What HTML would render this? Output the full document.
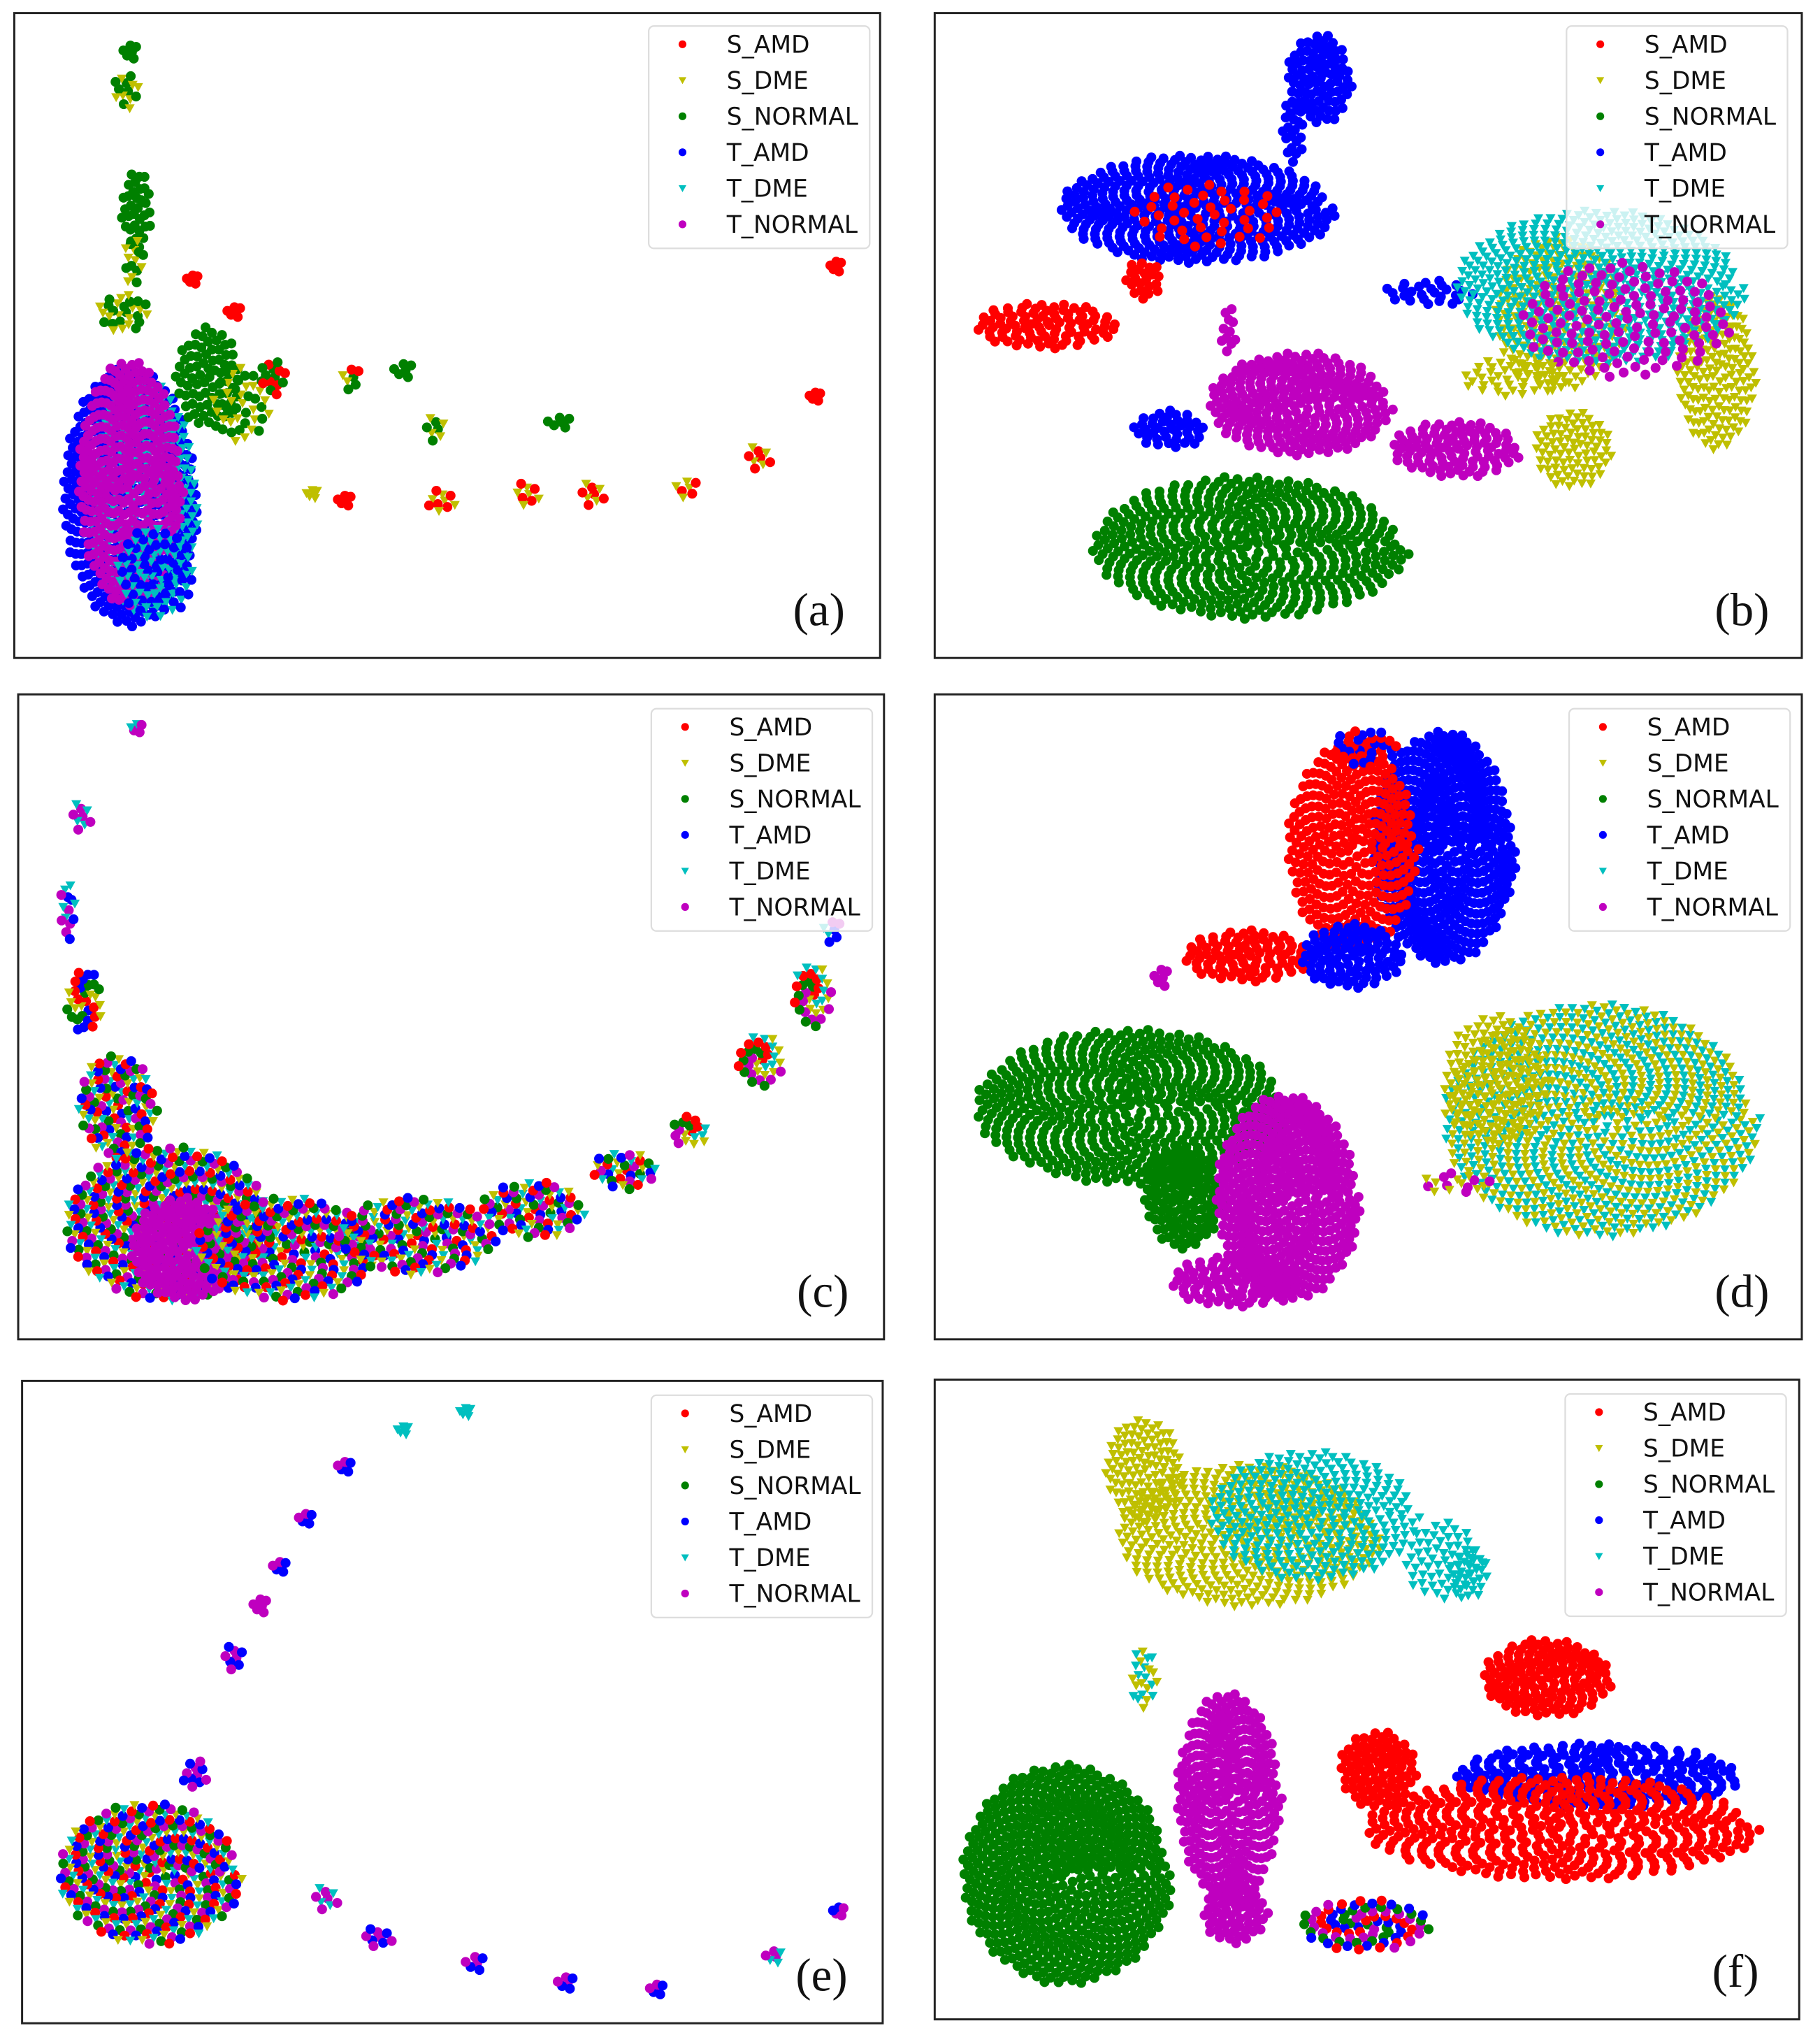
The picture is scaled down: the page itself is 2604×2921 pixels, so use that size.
<!DOCTYPE html>
<html><head><meta charset="utf-8"><style>
html,body{margin:0;padding:0;background:#fff}
svg{display:block}
text{font-family:"DejaVu Sans","Liberation Sans",sans-serif}
.lbl{font-family:"Liberation Serif",serif;font-size:36px}
</style></head><body>
<svg id="fig" width="2604" height="2921" viewBox="0 0 1400 1570.4" xmlns="http://www.w3.org/2000/svg">
<rect width="1400" height="1570.4" fill="#fff"/>
</svg>
<script>
// class names and colours
const classNames = ["S_AMD","S_DME","S_NORMAL","T_AMD","T_DME","T_NORMAL"];
const classColors = ["#ff0000","#bfbf00","#008000","#0000ff","#00bfbf","#bf00bf"];
// panel frames [x0,y0,x1,y1]
const panelA = [11,10,677,506], panelB = [719,10,1386,506], panelC = [14,534,680,1030];
const panelD = [719,534,1386,1030], panelE = [17,1062,679,1556], panelF = [719,1061,1384,1553];
// clusters: [cx, cy, rx, ry, classes, density]
const clustersA = [
 [100,40,6,8,"2",1],[97,70,10,15,"21",1],[105,160,12,30,"2",1],[103,200,8,20,"12",1],[95,240,20,15,"21",1],
 [100,380,52,100,"3",0.9],[110,380,42,90,"4",0.8],[100,370,40,95,"5",1],[120,440,30,35,"34",1],
 [160,290,25,40,"2",0.8],[185,310,22,30,"12",0.7],[210,290,10,15,"20",1],[270,290,8,10,"210",1],[310,285,8,8,"2",1],
 [335,330,9,10,"21",1],[430,325,10,6,"2",1],[340,385,11,10,"10",1],[405,380,10,10,"10",1],[455,380,10,10,"01",1],
 [528,375,10,8,"10",1],[583,352,10,10,"01",1],[627,305,5,5,"0",1],[643,205,5,6,"0",1],[265,385,6,6,"0",1],
 [240,380,5,5,"1",1],[148,215,5,5,"0",1],[180,240,6,6,"0",1]
];
const clustersB = [
 [1015,60,25,35,"3",1],[995,100,9,25,"3",1],[920,160,105,42,"3",1],[930,165,60,25,"0",0.3],
 [805,250,55,18,"0",1],[880,215,15,15,"0",1],[1100,225,35,10,"3",0.8],[945,255,6,20,"5",1],
 [1000,310,70,40,"5",1],[900,330,28,15,"3",1],[1120,345,50,22,"5",1],[960,420,120,55,"2",0.8],
 [1200,240,50,60,"1",0.8],[1320,285,30,60,"1",1],[1230,220,110,60,"4",0.9],[1250,245,80,45,"5",0.4],
 [1210,345,30,30,"1",1],[1165,290,40,15,"1",0.8]
];
const clustersC = [
 [105,560,5,5,"45",1],[62,628,8,12,"54",1],[52,700,6,25,"543",1],[65,770,14,25,"0123",1],[90,850,30,40,"012345",1],
 [130,940,80,60,"012345",1],[140,960,40,40,"5",1],[220,960,70,40,"012345",1],[320,950,60,30,"012345",1],
 [410,930,40,22,"012345",1],[480,900,25,15,"012345",1],[530,870,15,12,"01245",1],[585,815,18,20,"01245",1],
 [625,765,15,25,"01245",1],[640,715,8,10,"345",1]
];
const clustersD = [
 [1110,650,55,90,"3",1],[1040,650,50,80,"0",0.8],[960,735,50,20,"0",1],[1040,735,40,25,"3",1],
 [1050,575,25,15,"03",1],[870,850,120,60,"2",0.8],[910,920,30,40,"2",1],[990,920,55,80,"5",1],[950,985,50,20,"5",1],
 [1230,860,120,90,"14",1],[1150,830,40,50,"1",0.8],[893,752,6,10,"5",1],[1120,910,30,8,"15",0.7]
];
const clustersE = [
 [115,1440,70,55,"012345",1],[150,1365,10,12,"53",1],[180,1275,9,10,"53",1],[200,1235,6,8,"5",1],[215,1205,6,6,"53",1],
 [235,1168,6,6,"53",1],[265,1128,6,6,"53",1],[310,1100,5,5,"4",1],[358,1086,5,5,"4",1],[250,1460,10,10,"54",1],
 [290,1490,12,8,"53",1],[365,1510,8,8,"53",1],[435,1525,7,7,"53",1],[505,1530,6,6,"53",1],[595,1505,7,7,"54",1],[645,1470,5,5,"35",1]
];
const clustersF = [
 [960,1180,100,55,"1",0.9],[1010,1165,80,50,"4",0.8],[880,1130,30,40,"1",1],[1110,1200,30,30,"4",0.7],[1130,1210,15,20,"4",1],
 [1190,1290,50,30,"0",1],[1230,1365,110,25,"3",1],[1200,1405,150,40,"0",0.8],[1060,1360,30,30,"0",1],
 [820,1440,80,85,"2",0.9],[945,1380,40,80,"5",1],[950,1470,25,25,"5",1],[880,1290,10,25,"41",1],[1050,1480,50,20,"2305",0.9]
];
const legendBoxes = [[499,20],[1205,20],[501,545],[1207,545],[501,1073],[1204,1072]];
const panelLabels = ["(a)","(b)","(c)","(d)","(e)","(f)"];

const NS="http://www.w3.org/2000/svg";
const svg=document.getElementById('fig');
function mk(tag,attrs,parent){const e=document.createElementNS(NS,tag);for(const k in attrs)e.setAttribute(k,attrs[k]);(parent||svg).appendChild(e);return e;}

const panels=[panelA,panelB,panelC,panelD,panelE,panelF];
const clusters=[clustersA,clustersB,clustersC,clustersD,clustersE,clustersF];
panels.forEach((p,pi)=>{
 const g=mk('g',{});
 
 
 const fr=mk('rect',{x:p[0],y:p[1],width:p[2]-p[0],height:p[3]-p[1],fill:'none',stroke:'#222','stroke-width':1.6},g);
 
 
 const pts=mk('g',{},g);
 
 
 clusters[pi].forEach(c=>{
  const [cx,cy,rx,ry,cls,den]=c;
  const n=Math.max(6,Math.round(den*Math.PI*rx*ry/34));
  for(let i=0;i<n;i++){
   const r=Math.sqrt((i+0.5)/n), th=i*2.39996;
   const j=((i*0.618034)%1-0.5)*0.25;
   const x=cx+rx*(r+j*0.3)*Math.cos(th), y=cy+ry*(r+j*0.3)*Math.sin(th);
   const k=+cls[i%cls.length];
   drawMarker(pts,k,x,y,3.8);
  }
 });
 const [lx,ly]=legendBoxes[pi];
 const lg=mk('g',{},g);
 
 
 mk('rect',{x:lx,y:ly,width:170,height:171,rx:4,fill:'rgba(255,255,255,0.8)',stroke:'#ddd','stroke-width':1.2},lg);
 classNames.forEach((nm,k)=>{
  const yy=ly+14+k*27.7;
  const e=mk('g',{},lg);
  
  
  drawMarker(e,k,lx+26,yy,3);
  const t=mk('text',{x:lx+60,y:yy+6.5,'font-size':18.5,fill:'#111'},e);
  t.textContent=nm;
 });
 const lt=mk('text',{x:p[2]-67,y:p[3]-25,class:'lbl',fill:'#111'},g);
 
 
 lt.textContent=panelLabels[pi];
});
function drawMarker(parent,k,x,y,s){
 let e;
 if(k===1||k===4){
  e=mk('polygon',{points:`${x-s},${y-s*0.8} ${x+s},${y-s*0.8} ${x},${y+s}`,fill:classColors[k]},parent);
 } else {
  e=mk('circle',{cx:x,cy:y,r:s,fill:classColors[k]},parent);
 }
 return e;
}
</script>
</body></html>
